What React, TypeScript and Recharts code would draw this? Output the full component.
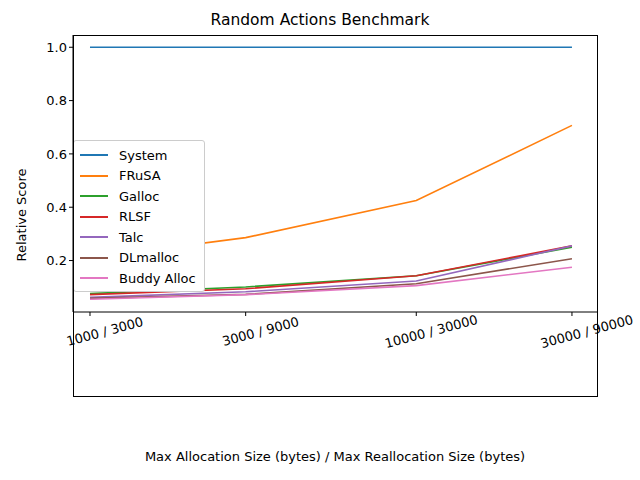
import { LineChart, Line, XAxis, YAxis } from "recharts";

const sizes = [1000, 3000, 10000, 30000];
const sizeLabels = ["1000 / 3000", "3000 / 9000", "10000 / 30000", "30000 / 90000"];
const system = [1.0, 1.0, 1.0, 1.0];
const frusa = [0.21, 0.286, 0.425, 0.707];
const galloc = [0.076, 0.101, 0.143, 0.25];
const rlsf = [0.072, 0.094, 0.143, 0.255];
const talc = [0.062, 0.083, 0.123, 0.255];
const dlmalloc = [0.058, 0.073, 0.113, 0.207];
const buddy = [0.055, 0.072, 0.106, 0.175];

const series = [
  { key: "System", values: system, color: "#1f77b4" },
  { key: "FRuSA", values: frusa, color: "#ff7f0e" },
  { key: "Galloc", values: galloc, color: "#2ca02c" },
  { key: "RLSF", values: rlsf, color: "#d62728" },
  { key: "Talc", values: talc, color: "#9467bd" },
  { key: "DLmalloc", values: dlmalloc, color: "#8c564b" },
  { key: "Buddy Alloc", values: buddy, color: "#e377c2" },
];

const data = sizes.map((s, i) => {
  const row: Record<string, number> = { size: s };
  series.forEach((sr) => (row[sr.key] = sr.values[i]));
  return row;
});

const font = "DejaVu Sans, sans-serif";

function XTick(props: any) {
  const { x, y, payload } = props;
  const idx = sizes.indexOf(payload.value);
  return (
    <g transform={`translate(${x + 15},${y + 14}) rotate(-15)`}>
      <text textAnchor="middle" dy={4} fontSize={13} fill="#000" fontFamily={font}>
        {sizeLabels[idx]}
      </text>
    </g>
  );
}

function LegendBox() {
  return (
    <div
      style={{
        position: "absolute",
        left: 73,
        top: 140,
        border: "1px solid #ccc",
        borderRadius: 3,
        background: "#fff",
        padding: "4px 8px 2px 6px",
        width: 116,
        fontFamily: font,
        fontSize: 13,
      }}
    >
      {series.map((s) => (
        <div key={s.key} style={{ display: "flex", alignItems: "center", height: 20.5 }}>
          <span style={{ display: "inline-block", width: 28, height: 2, background: s.color, marginRight: 11 }} />
          <span>{s.key}</span>
        </div>
      ))}
    </div>
  );
}

export default function App() {
  return (
    <div style={{ position: "absolute", left: 0, top: 0, width: 640, height: 480, background: "#fff", fontFamily: font }}>
      <div style={{ position: "absolute", top: 11, width: 640, textAlign: "center", fontSize: 15.5 }}>
        Random Actions Benchmark
      </div>
      <LineChart width={640} height={480} data={data} margin={{ top: 35, right: 43, bottom: 84, left: 0 }}>
        <XAxis
          dataKey="size"
          type="number"
          scale="log"
          domain={[887, 35800]}
          ticks={sizes}
          tick={<XTick />}
          stroke="#000"
          tickSize={4}
          interval={0}
          height={84}
          allowDataOverflow
        />
        <YAxis
          width={73}
          domain={[0.007, 1.046]}
          ticks={[0.2, 0.4, 0.6, 0.8, 1.0]}
          tickFormatter={(v: number) => v.toFixed(1)}
          tick={{ fontSize: 13, fill: "#000", fontFamily: font }}
          stroke="#000"
          tickSize={4}
          allowDataOverflow
        />
        {series.map((s) => (
          <Line
            key={s.key}
            dataKey={s.key}
            stroke={s.color}
            strokeWidth={1.6}
            dot={false}
            isAnimationActive={false}
          />
        ))}
      </LineChart>
      <LegendBox />
      <div style={{ position: "absolute", left: 73, top: 35, width: 523, height: 360, border: "1px solid #000", pointerEvents: "none" }} />
      <div style={{ position: "absolute", top: 449, width: 640, left: 15, textAlign: "center", fontSize: 13 }}>
        Max Allocation Size (bytes) / Max Reallocation Size (bytes)
      </div>
      <div
        style={{
          position: "absolute",
          left: 21,
          top: 215,
          transform: "translate(-50%,-50%) rotate(-90deg)",
          fontSize: 13,
          whiteSpace: "nowrap",
        }}
      >
        Relative Score
      </div>
    </div>
  );
}
